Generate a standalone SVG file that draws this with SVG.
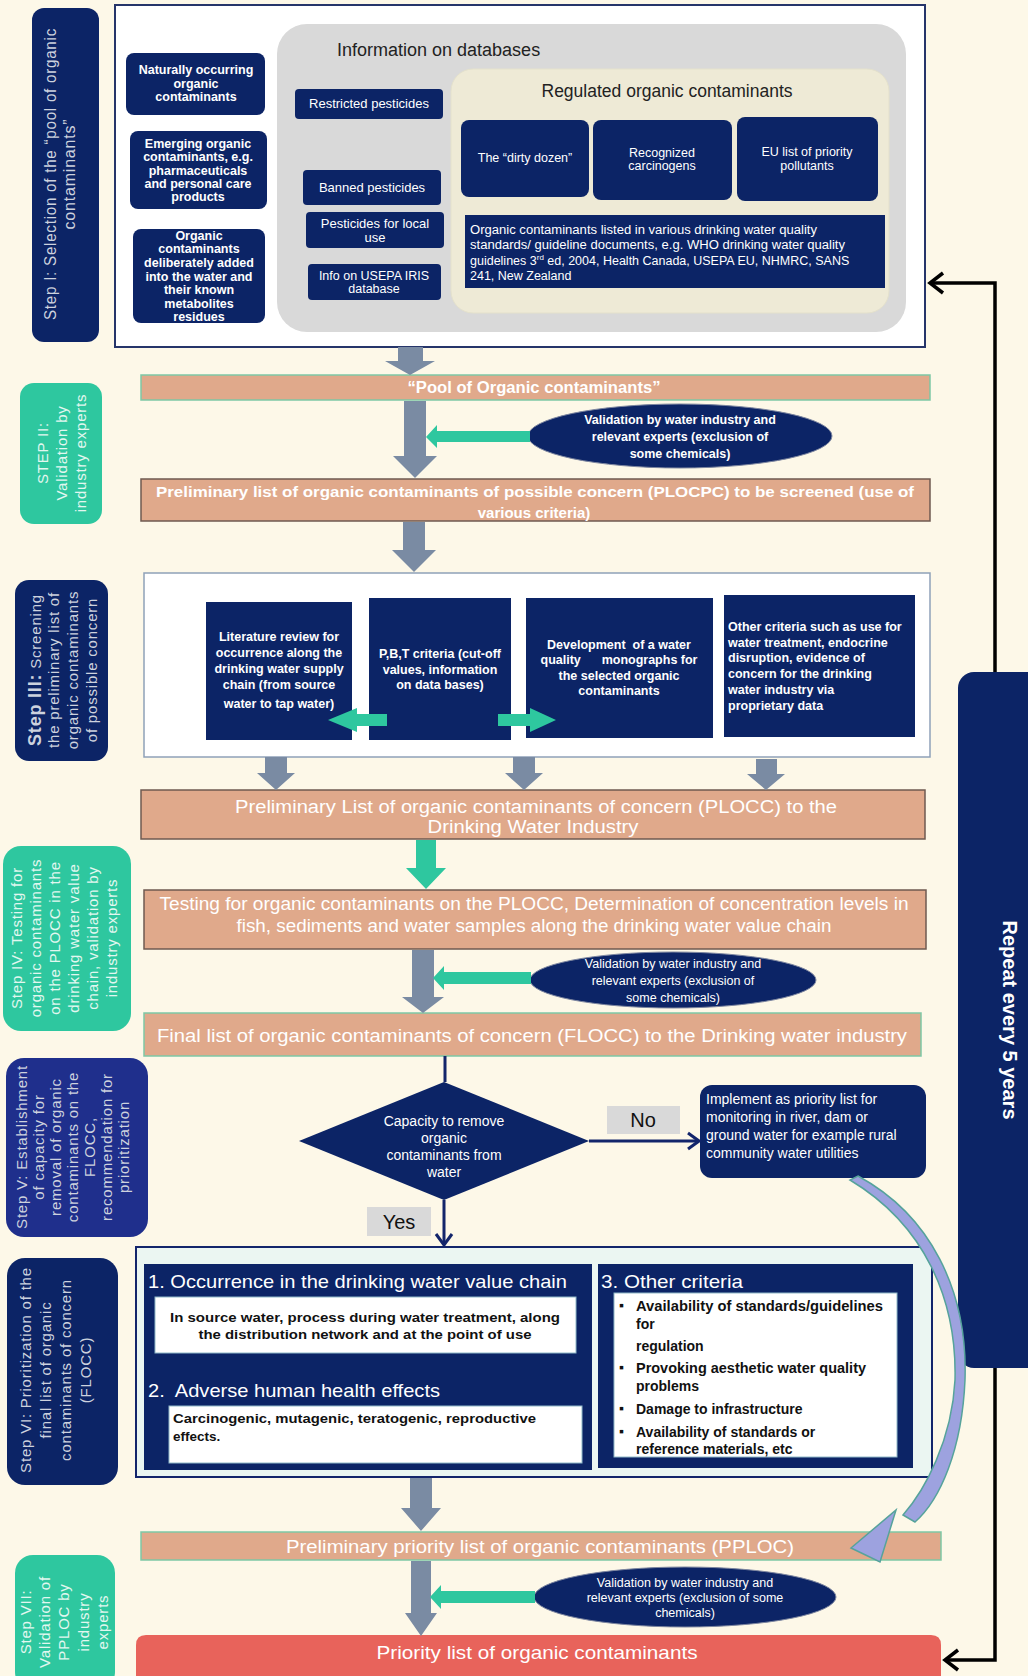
<svg xmlns="http://www.w3.org/2000/svg" width="1028" height="1676" viewBox="0 0 1028 1676">
<defs>
<style>
text{font-family:"Liberation Sans",Arial,sans-serif}
.navy{fill:#0c2466}
.wt{fill:#fff}
.bk{fill:#111}
.b{font-weight:bold}
.c{text-anchor:middle}
.salmon{fill:#e0a98b}
.sg{stroke:#7ec7a5;stroke-width:1.5}
.sb{stroke:#6f5a50;stroke-width:1.5}
.lbln{fill:#cdd2de;text-anchor:middle;letter-spacing:0.8px}
.lblg{fill:#e2f7f0;text-anchor:middle;letter-spacing:0.8px}
.ga{fill:#7a8ba3}
.gr{fill:#2ec79f}
.ell{fill:#0c2466;stroke:#7d86a0;stroke-width:1}
.gbox{fill:#d9d9d9}
.wbox{fill:#fff;stroke:#8fb8c8;stroke-width:1}
</style>
<marker id="chevK" markerUnits="userSpaceOnUse" markerWidth="20" markerHeight="24" viewBox="0 0 20 24" refX="17" refY="12" orient="auto"><path d="M4,2 L17,12 L4,22" fill="none" stroke="#000" stroke-width="3.5"/></marker>
<marker id="chevN" markerUnits="userSpaceOnUse" markerWidth="16" markerHeight="20" viewBox="0 0 16 20" refX="14" refY="10" orient="auto"><path d="M3,2 L14,10 L3,18" fill="none" stroke="#13256b" stroke-width="3"/></marker>
</defs>
<rect width="1028" height="1676" fill="#fdf8e8"/>

<!-- Step labels -->
<g id="step1-label">
<rect x="32" y="8" width="67" height="334" rx="12" class="navy"/>
<text class="lbln" font-size="16" transform="translate(50,174) rotate(-90)" y="5.5" textLength="292" lengthAdjust="spacingAndGlyphs">Step I: Selection of the “pool of organic</text>
<text class="lbln" font-size="16" transform="translate(69,174) rotate(-90)" y="5.5">contaminants”</text>
</g>
<g id="step2-label">
<rect x="20" y="383" width="82" height="141" rx="14" class="gr"/>
<text class="lblg" font-size="15" transform="translate(43,453) rotate(-90)" y="5">STEP II:</text>
<text class="lblg" font-size="15" transform="translate(62,453) rotate(-90)" y="5">Validation by</text>
<text class="lblg" font-size="15" transform="translate(81,453) rotate(-90)" y="5">industry experts</text>
</g>
<g id="step3-label">
<rect x="15" y="580" width="93" height="181" rx="14" class="navy"/>
<text class="lbln" font-size="15" transform="translate(35,670) rotate(-90)" y="6"><tspan font-weight="bold" font-size="18">Step III:</tspan>  Screening</text>
<text class="lbln" font-size="15" transform="translate(54,670) rotate(-90)" y="5">the preliminary list of</text>
<text class="lbln" font-size="15" transform="translate(73,670) rotate(-90)" y="5">organic contaminants</text>
<text class="lbln" font-size="15" transform="translate(92,670) rotate(-90)" y="5">of  possible concern</text>
</g>
<g id="step4-label">
<rect x="3" y="846" width="128" height="185" rx="18" class="gr"/>
<text class="lblg" font-size="15" transform="translate(17,938) rotate(-90)" y="5">Step IV: Testing for</text>
<text class="lblg" font-size="15" transform="translate(36,938) rotate(-90)" y="5">organic contaminants</text>
<text class="lblg" font-size="15" transform="translate(55,938) rotate(-90)" y="5">on the PLOCC in the</text>
<text class="lblg" font-size="15" transform="translate(74,938) rotate(-90)" y="5">drinking water value</text>
<text class="lblg" font-size="15" transform="translate(93,938) rotate(-90)" y="5">chain, validation by</text>
<text class="lblg" font-size="15" transform="translate(112,938) rotate(-90)" y="5">industry experts</text>
</g>
<g id="step5-label">
<rect x="6" y="1058" width="142" height="179" rx="18" fill="#1f2f8c"/>
<text class="lbln" font-size="15" transform="translate(22,1147) rotate(-90)" y="5">Step V: Establishment</text>
<text class="lbln" font-size="15" transform="translate(39,1147) rotate(-90)" y="5">of capacity for</text>
<text class="lbln" font-size="15" transform="translate(56,1147) rotate(-90)" y="5">removal of organic</text>
<text class="lbln" font-size="15" transform="translate(73,1147) rotate(-90)" y="5">contaminants on the</text>
<text class="lbln" font-size="15" transform="translate(90,1147) rotate(-90)" y="5">FLOCC,</text>
<text class="lbln" font-size="15" transform="translate(107,1147) rotate(-90)" y="5">recommendation for</text>
<text class="lbln" font-size="15" transform="translate(124,1147) rotate(-90)" y="5">prioritization</text>
</g>
<g id="step6-label">
<rect x="7" y="1258" width="111" height="227" rx="18" class="navy"/>
<text class="lbln" font-size="15" transform="translate(26,1370) rotate(-90)" y="5">Step VI: Prioritization of the</text>
<text class="lbln" font-size="15" transform="translate(46,1370) rotate(-90)" y="5">final list of organic</text>
<text class="lbln" font-size="15" transform="translate(66,1370) rotate(-90)" y="5">contaminants of concern</text>
<text class="lbln" font-size="15" transform="translate(86,1370) rotate(-90)" y="5">(FLOCC)</text>
</g>
<g id="step7-label">
<rect x="15" y="1555" width="100" height="135" rx="18" class="gr"/>
<text class="lblg" font-size="15" transform="translate(26,1622) rotate(-90)" y="5">Step VII:</text>
<text class="lblg" font-size="15" transform="translate(45,1622) rotate(-90)" y="5">Validation of</text>
<text class="lblg" font-size="15" transform="translate(64,1622) rotate(-90)" y="5">PPLOC by</text>
<text class="lblg" font-size="15" transform="translate(84,1622) rotate(-90)" y="5">industry</text>
<text class="lblg" font-size="15" transform="translate(103,1622) rotate(-90)" y="5">experts</text>
</g>
<g id="repeat">
<rect x="958" y="672" width="100" height="696" rx="16" class="navy"/>
<text class="wt b" font-size="20" transform="translate(1010,1020) rotate(90)" y="7" text-anchor="middle">Repeat every 5 years</text>
</g>

<!-- Step I pool -->
<g id="pool-frame">
<rect x="115" y="5" width="810" height="342" fill="#fff" stroke="#26356a" stroke-width="2"/>
</g>
<g id="databases">
<rect x="277" y="24" width="629" height="308" rx="30" fill="#d9d9d9"/>
<text x="337" y="56" font-size="18" fill="#222">Information on databases</text>
</g>
<g id="natural">
<rect x="126" y="53" width="139" height="62" rx="8" class="navy"/>
<text class="wt b c" font-size="12.5"><tspan x="196" y="74">Naturally occurring</tspan><tspan x="196" y="88">organic</tspan><tspan x="196" y="101">contaminants</tspan></text>
</g>
<g id="emerging">
<rect x="130" y="131" width="137" height="78" rx="8" class="navy"/>
<text class="wt b c" font-size="12.5"><tspan x="198" y="148">Emerging organic</tspan><tspan x="198" y="161">contaminants, e.g.</tspan><tspan x="198" y="175">pharmaceuticals</tspan><tspan x="198" y="188">and personal care</tspan><tspan x="198" y="201">products</tspan></text>
</g>
<g id="deliberate">
<rect x="133" y="229" width="132" height="94" rx="8" class="navy"/>
<text class="wt b c" font-size="12.5"><tspan x="199" y="240">Organic</tspan><tspan x="199" y="253">contaminants</tspan><tspan x="199" y="267">deliberately added</tspan><tspan x="199" y="281">into the water and</tspan><tspan x="199" y="294">their known</tspan><tspan x="199" y="308">metabolites</tspan><tspan x="199" y="321">residues</tspan></text>
</g>
<g id="restricted">
<rect x="295" y="89" width="148" height="30" rx="4" class="navy"/>
<text class="wt c" font-size="13" x="369" y="108">Restricted pesticides</text>
</g>
<g id="banned">
<rect x="303" y="170" width="138" height="35" rx="4" class="navy"/>
<text class="wt c" font-size="13" x="372" y="192">Banned pesticides</text>
</g>
<g id="local">
<rect x="306" y="212" width="138" height="36" rx="4" class="navy"/>
<text class="wt c" font-size="13"><tspan x="375" y="228">Pesticides for local</tspan><tspan x="375" y="242">use</tspan></text>
</g>
<g id="iris">
<rect x="308" y="264" width="133" height="36" rx="4" class="navy"/>
<text class="wt c" font-size="12.5"><tspan x="374" y="280">Info on USEPA IRIS</tspan><tspan x="374" y="293">database</tspan></text>
</g>
<g id="regulated">
<rect x="451" y="69" width="438" height="244" rx="22" fill="#eeead6" stroke="#e4e1cc"/>
<text class="c" x="667" y="97" font-size="17.5" fill="#222">Regulated organic contaminants</text>
</g>
<g id="dirty">
<rect x="461" y="120" width="128" height="77" rx="8" class="navy"/>
<text class="wt c" font-size="12.5" x="525" y="162">The “dirty dozen”</text>
</g>
<g id="carcinogens">
<rect x="593" y="120" width="139" height="80" rx="8" class="navy"/>
<text class="wt c" font-size="12.5"><tspan x="662" y="157">Recognized</tspan><tspan x="662" y="170">carcinogens</tspan></text>
</g>
<g id="eu">
<rect x="737" y="117" width="141" height="84" rx="8" class="navy"/>
<text class="wt c" font-size="12.5"><tspan x="807" y="156">EU list of priority</tspan><tspan x="807" y="170">pollutants</tspan></text>
</g>
<g id="standards">
<rect x="465" y="215" width="420" height="73" class="navy"/>
<text class="wt" font-size="12.5" x="470" y="234" textLength="347" lengthAdjust="spacingAndGlyphs">Organic contaminants listed in various drinking water quality</text>
<text class="wt" font-size="12.5" x="470" y="249" textLength="375" lengthAdjust="spacingAndGlyphs">standards/ guideline documents, e.g. WHO drinking water quality</text>
<text class="wt" font-size="12.5" x="470" y="265">guidelines 3<tspan font-size="8" dy="-5">rd</tspan><tspan dy="5"> ed, 2004, Health Canada, USEPA EU, NHMRC, SANS</tspan></text>
<text class="wt" font-size="12.5" x="470" y="280">241, New Zealand</text>
</g>

<!-- Bars -->
<g id="pool-bar">
<rect x="141" y="375" width="789" height="25" class="salmon sg"/>
<text class="wt b c" font-size="16" x="534" y="393" textLength="253" lengthAdjust="spacingAndGlyphs">“Pool of Organic contaminants”</text>
</g>
<g id="val1">
<ellipse cx="680" cy="436" rx="152" ry="32" class="ell"/>
<text class="wt b c" font-size="12.5"><tspan x="680" y="424">Validation  by water industry and</tspan><tspan x="680" y="441">relevant experts (exclusion of</tspan><tspan x="680" y="458">some chemicals)</tspan></text>
</g>
<g id="plocpc">
<rect x="141" y="479" width="789" height="42" class="salmon sb"/>
<text class="wt b c" font-size="15" x="535" y="497" textLength="758" lengthAdjust="spacingAndGlyphs">Preliminary list of organic contaminants of  possible concern (PLOCPC) to be screened (use of</text>
<text class="wt b c" font-size="15" x="534" y="518">various criteria)</text>
</g>
<g id="screen-frame">
<rect x="144" y="573" width="786" height="184" fill="#fff" stroke="#8fa1b8" stroke-width="1.5"/>
</g>
<g id="literature">
<rect x="206" y="602" width="146" height="138" class="navy"/>
<text class="wt b c" font-size="12.5"><tspan x="279" y="641">Literature review for</tspan><tspan x="279" y="657">occurrence along the</tspan><tspan x="279" y="673">drinking water supply</tspan><tspan x="279" y="689">chain (from source</tspan><tspan x="279" y="708">water to tap water)</tspan></text>
</g>
<g id="pbt">
<rect x="369" y="598" width="142" height="142" class="navy"/>
<text class="wt b c" font-size="12.5"><tspan x="440" y="658">P,B,T criteria (cut-off</tspan><tspan x="440" y="674">values, information</tspan><tspan x="440" y="689">on data bases)</tspan></text>
</g>
<g id="monographs">
<rect x="526" y="598" width="187" height="140" class="navy"/>
<text class="wt b c" font-size="12.5" xml:space="preserve"><tspan x="619" y="649">Development  of a water</tspan><tspan x="619" y="664">quality      monographs for</tspan><tspan x="619" y="680">the selected organic</tspan><tspan x="619" y="695">contaminants</tspan></text>
</g>
<g id="other">
<rect x="724" y="595" width="191" height="142" class="navy"/>
<text class="wt b" font-size="12.5"><tspan x="728" y="631">Other criteria such as use for</tspan><tspan x="728" y="647">water treatment, endocrine</tspan><tspan x="728" y="662">disruption, evidence of</tspan><tspan x="728" y="678">concern for the drinking</tspan><tspan x="728" y="694">water industry via</tspan><tspan x="728" y="710">proprietary data</tspan></text>
</g>
<g id="plocc">
<rect x="141" y="790" width="784" height="49" class="salmon sb"/>
<text class="wt c" font-size="18" x="536" y="813" textLength="602" lengthAdjust="spacingAndGlyphs">Preliminary List of organic contaminants of concern (PLOCC) to the</text>
<text class="wt c" font-size="18" x="533" y="833" textLength="211" lengthAdjust="spacingAndGlyphs">Drinking Water Industry</text>
</g>
<g id="testing">
<rect x="144" y="890" width="782" height="59" class="salmon sb"/>
<text class="wt c" font-size="17.5" x="534" y="910" textLength="749" lengthAdjust="spacingAndGlyphs">Testing for organic contaminants  on the PLOCC, Determination of concentration  levels  in</text>
<text class="wt c" font-size="17.5" x="534" y="932" textLength="595" lengthAdjust="spacingAndGlyphs">fish, sediments and  water samples along the drinking water value chain</text>
</g>
<g id="val2">
<ellipse cx="673" cy="980" rx="143" ry="28" class="ell"/>
<text class="wt c" font-size="12.5"><tspan x="673" y="968">Validation  by water industry and</tspan><tspan x="673" y="985">relevant experts (exclusion of</tspan><tspan x="673" y="1002">some chemicals)</tspan></text>
</g>
<g id="flocc">
<rect x="144" y="1013" width="777" height="43" class="salmon sg"/>
<text class="wt c" font-size="17.5" x="532" y="1042" textLength="750" lengthAdjust="spacingAndGlyphs">Final list of organic contaminants of concern (FLOCC) to the Drinking water industry</text>
</g>
<g id="capacity">
<polygon points="444,1082 589,1141 444,1200 299,1141" class="navy"/>
<text class="wt c" font-size="14"><tspan x="444" y="1126">Capacity to remove</tspan><tspan x="444" y="1143">organic</tspan><tspan x="444" y="1160">contaminants from</tspan><tspan x="444" y="1177">water</tspan></text>
</g>
<g id="no-label">
<rect x="607" y="1106" width="73" height="28" class="gbox"/>
<text class="c bk" font-size="20" x="643" y="1127">No</text>
</g>
<g id="yes-label">
<rect x="367" y="1207" width="64" height="29" class="gbox"/>
<text class="c bk" font-size="20" x="399" y="1229">Yes</text>
</g>
<g id="implement">
<rect x="700" y="1085" width="226" height="93" rx="12" class="navy"/>
<text class="wt" font-size="14"><tspan x="706" y="1104">Implement as priority list for</tspan><tspan x="706" y="1122">monitoring in river, dam or</tspan><tspan x="706" y="1140">ground water for example rural</tspan><tspan x="706" y="1158">community water utilities</tspan></text>
</g>
<g id="prioritization">
<rect x="136" y="1247" width="796" height="230" fill="#ebf6f2" stroke="#13256b" stroke-width="2"/>
<rect x="144" y="1264" width="448" height="206" class="navy"/>
<rect x="598" y="1264" width="315" height="204" class="navy"/>
<text class="wt" font-size="19" x="148" y="1288" textLength="419" lengthAdjust="spacingAndGlyphs">1. Occurrence in the drinking water value chain</text>
<rect x="155" y="1297" width="421" height="56" class="wbox"/>
<text class="bk b c" font-size="13.5" x="365" y="1322" textLength="390" lengthAdjust="spacingAndGlyphs">In source water, process during water treatment, along</text>
<text class="bk b c" font-size="13.5" x="365" y="1339" textLength="333" lengthAdjust="spacingAndGlyphs">the distribution network and at the point of use</text>
<text class="wt" font-size="19" x="148" y="1397" textLength="292" lengthAdjust="spacingAndGlyphs" xml:space="preserve">2.  Adverse human health effects</text>
<rect x="169" y="1406" width="413" height="57" class="wbox"/>
<text class="bk b" font-size="13.5" x="173" y="1423" textLength="363" lengthAdjust="spacingAndGlyphs">Carcinogenic, mutagenic, teratogenic, reproductive</text>
<text class="bk b" font-size="13.5" x="173" y="1441">effects.</text>
<text class="wt" font-size="19" x="601" y="1288" textLength="142" lengthAdjust="spacingAndGlyphs">3. Other criteria</text>
<rect x="614" y="1293" width="283" height="164" class="wbox"/>
<g class="bk b" font-size="14">
<text x="619" y="1310">▪</text><text x="636" y="1311" textLength="247" lengthAdjust="spacingAndGlyphs">Availability of standards/guidelines</text>
<text x="636" y="1329">for</text>
<text x="636" y="1351">regulation</text>
<text x="619" y="1372">▪</text><text x="636" y="1373" textLength="230" lengthAdjust="spacingAndGlyphs">Provoking aesthetic water quality</text>
<text x="636" y="1391">problems</text>
<text x="619" y="1413">▪</text><text x="636" y="1414">Damage to infrastructure</text>
<text x="619" y="1436">▪</text><text x="636" y="1437">Availability of standards or</text>
<text x="636" y="1454">reference materials, etc</text>
</g>
</g>
<g id="pploc">
<rect x="141" y="1532" width="800" height="28" class="salmon sg"/>
<text class="wt c" font-size="17.5" x="540" y="1553" textLength="508" lengthAdjust="spacingAndGlyphs">Preliminary priority list of organic contaminants (PPLOC)</text>
</g>
<g id="val3">
<ellipse cx="685" cy="1597" rx="151" ry="30" class="ell"/>
<text class="wt c" font-size="12.5"><tspan x="685" y="1587">Validation  by water industry and</tspan><tspan x="685" y="1602">relevant experts (exclusion of some</tspan><tspan x="685" y="1617">chemicals)</tspan></text>
</g>
<g id="priority">
<path d="M136 1676 V1645 Q136 1635 146 1635 H931 Q941 1635 941 1645 V1676 Z" fill="#e8635b"/>
<text class="wt c" font-size="19" x="537" y="1659" textLength="321" lengthAdjust="spacingAndGlyphs">Priority list of organic contaminants</text>
</g>

<!-- Connectors -->
<g id="connectors">
<polyline points="995,672 995,283 930,283" fill="none" stroke="#000" stroke-width="3.5" marker-end="url(#chevK)"/>
<polyline points="995,1368 995,1660 945,1660" fill="none" stroke="#000" stroke-width="3.5" marker-end="url(#chevK)"/>
<polygon class="ga" points="398,347 423,347 423,361 435,361 410,375 385,361 398,361"/>
<polygon class="ga" points="404,401 426,401 426,456 437,456 415,478 393,456 404,456"/>
<polygon class="ga" points="403,522 425,522 425,550 436,550 414,572 392,550 403,550"/>
<polygon class="ga" points="265,757 287,757 287,773 295,773 276,790 257,773 265,773"/>
<polygon class="ga" points="513,757 535,757 535,773 543,773 524,790 505,773 513,773"/>
<polygon class="ga" points="756,759 777,759 777,774 785,774 766,790 747,774 756,774"/>
<polygon class="gr" points="416,840 436,840 436,868 446,868 426,889 406,868 416,868"/>
<polygon class="ga" points="412,950 434,950 434,997 444,997 423,1013 402,997 412,997"/>
<polygon class="ga" points="410,1478 432,1478 432,1508 441,1508 421,1531 401,1508 410,1508"/>
<polygon class="ga" points="411,1561 431,1561 431,1613 437,1613 421,1636 405,1613 411,1613"/>
<polygon class="gr" points="530,431 437,431 437,425 426,437 437,448 437,442 530,442"/>
<polygon class="gr" points="531,972 444,972 444,966 433,978 444,990 444,984 531,984"/>
<polygon class="gr" points="535,1591 441,1591 441,1585 430,1597 441,1609 441,1603 535,1603"/>
<polygon class="gr" points="387,714 357,714 357,708 328,720 357,732 357,726 387,726"/>
<polygon class="gr" points="498,714 530,714 530,708 556,720 530,732 530,726 498,726"/>
<line x1="445" y1="1056" x2="445" y2="1082" stroke="#13256b" stroke-width="3"/>
<line x1="589" y1="1141" x2="699" y2="1141" stroke="#13256b" stroke-width="3" marker-end="url(#chevN)"/>
<line x1="444" y1="1200" x2="444" y2="1245" stroke="#13256b" stroke-width="3" marker-end="url(#chevN)"/>
<path d="M858 1176 C930 1215 968 1290 965 1380 C962 1450 940 1500 915 1522 L903 1515 C925 1490 952 1440 955 1380 C957 1300 925 1225 850 1180 Z" fill="#9da2df" stroke="#56a39b" stroke-width="1.5"/>
<polygon points="851,1548 896,1510 880,1562" fill="#9da2df" stroke="#56a39b" stroke-width="1.5"/>
</g>
</svg>
